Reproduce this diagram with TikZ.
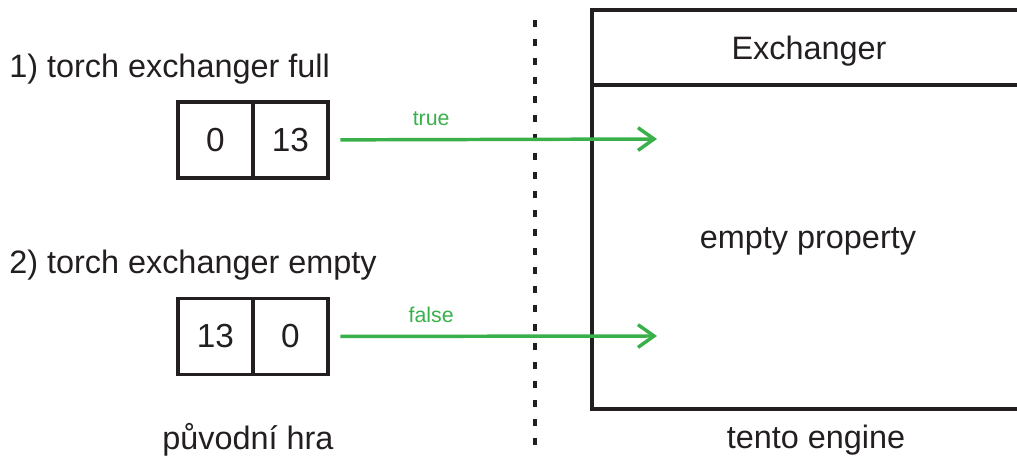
\documentclass[tikz,border=0pt]{standalone}
\usepackage{fontspec}
\setmainfont{Liberation Sans}
\usetikzlibrary{arrows.meta}
\definecolor{ink}{RGB}{35,31,32}
\definecolor{flaggreen}{RGB}{57,176,74}
\begin{document}
\begin{tikzpicture}[x=0.75pt, y=-0.75pt,
		cell/.style={draw=ink, line width=2.6pt, minimum width=56.25pt, minimum height=57pt, inner sep=0pt, text=ink, font=\fontsize{25}{30}\selectfont},
		panel/.style={draw=ink, line width=3pt, minimum width=330pt, inner sep=0pt},
		caption/.style={inner sep=0pt, text=ink, font=\fontsize{24.3}{29}\selectfont},
		flow/.style={draw=flaggreen, line width=2.6pt, -{Straight Barb[length=12pt, width=17pt]}, shorten <=8pt},
		flag/.style={inner sep=0pt, anchor=base, yshift=10.5pt, text=flaggreen, font=\fontsize{16}{19}\selectfont} ]
		\useasboundingbox (0,0) rectangle (1017,456);

		\node[caption, anchor=base west] (full) at (9,78) {1) torch exchanger full};
		\node[cell] (a1) at (215.5,140) {0};
		\node[cell] (b1) at (290.5,140) {13};

		\node[caption, anchor=base west] (empty) at (9,273) {2) torch exchanger empty};
		\node[cell] (a2) at (215.5,336.5) {13};
		\node[cell] (b2) at (290.5,336.5) {0};

		\node[caption, anchor=base] (game) at (248,449) {původní hra};

		% hranice
		\draw[ink, line width=3pt, dash pattern=on 5.25pt off 9pt] (535,20) -- (535,470);

		\node[panel, minimum height=56.25pt] (head) at (812,47.5) {};
		\node[panel, minimum height=243pt] (body) at (812,247) {};
		\node[caption, anchor=base] (title) at (809,60) {Exchanger};
		\node[caption, anchor=base] (prop) at (808,248) {empty property};
		\node[caption, anchor=base] (engine) at (816,448) {tento engine};

		\coordinate (t1) at (657,139);
		\coordinate (t2) at (657,336);
		\draw[flow] (b1) -- (t1) node[flag, pos=0.31] {true};
		\draw[flow] (b2) -- (t2) node[flag, pos=0.31] {false};
	\end{tikzpicture}
\end{document}
